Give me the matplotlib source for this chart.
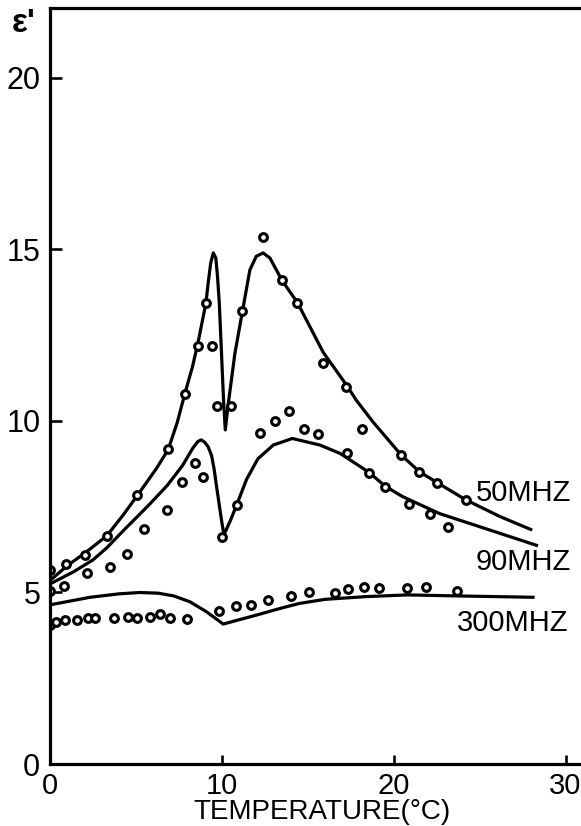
import matplotlib
matplotlib.use("Agg")
import matplotlib.pyplot as plt

# fitted curves
t_50 = [0, 1.0, 2.03, 3.3, 4.26, 5.1, 6.2, 6.88, 7.4, 7.85, 8.3, 8.62, 9.07, 9.2, 9.35, 9.5,
        9.65, 9.75, 9.85, 9.96, 10.1, 10.2, 10.4, 10.76, 11.2, 11.63, 12.0, 12.4, 12.8, 13.5,
        14.4, 15.9, 17.25, 17.83, 18.8, 20.45, 21.5, 22.54, 24.2, 26.2, 28.06]
e_50 = [5.35, 5.78, 6.15, 6.65, 7.26, 7.84, 8.62, 9.17, 9.95, 10.8, 11.6, 12.3, 13.43, 14.0, 14.6, 14.9,
        14.75, 14.2, 13.45, 12.2, 10.6, 9.74, 10.6, 11.97, 13.2, 14.4, 14.8, 14.9, 14.75, 14.1,
        13.45, 12.0, 11.05, 10.6, 9.97, 9.0, 8.52, 8.2, 7.7, 7.21, 6.82]

t_90 = [0, 1.36, 2.5, 3.3, 4.26, 5.0, 5.81, 6.82, 7.71, 8.3, 8.6, 8.8, 9.0, 9.2, 9.4, 9.55,
        9.69, 9.85, 9.98, 10.12, 10.5, 10.9, 11.44, 12.1, 13.0, 14.1, 15.7, 16.9, 18.57,
        19.5, 20.5, 22.67, 25.6, 28.4]
e_90 = [5.25, 5.6, 5.95, 6.3, 6.8, 7.17, 7.58, 8.12, 8.7, 9.2, 9.4, 9.45, 9.38, 9.25, 9.0, 8.6,
        8.1, 7.55, 7.11, 6.68, 7.1, 7.6, 8.3, 8.9, 9.3, 9.49, 9.3, 9.05, 8.5,
        8.1, 7.8, 7.3, 6.82, 6.36]

t_300 = [0, 2.33, 4.0, 5.23, 6.3, 7.2, 8.14, 9.1, 10.08, 12.0, 13.5, 14.5, 16.0, 18.4, 20.8, 23.7, 28.2]
e_300 = [4.64, 4.86, 4.96, 5.0, 4.98, 4.9, 4.73, 4.44, 4.08, 4.34, 4.55, 4.68, 4.8, 4.88, 4.93, 4.9, 4.86]

# measured points
pt_50 = [0, 0.93, 2.03, 3.3, 5.08, 6.88, 7.85, 8.62, 9.4, 9.07, 9.69, 10.56, 11.2, 12.4,
         13.5, 14.4, 15.9, 17.25, 18.18, 20.45, 21.5, 22.54, 24.2]
pe_50 = [5.66, 5.83, 6.09, 6.65, 7.84, 9.17, 10.8, 12.2, 12.2, 13.43, 10.44, 10.44, 13.2, 15.36,
         14.1, 13.45, 11.7, 11.0, 9.77, 9.0, 8.52, 8.2, 7.7]

pt_90 = [0, 0.81, 2.17, 3.49, 4.5, 5.47, 6.82, 7.71, 8.43, 8.91, 9.98, 10.9, 12.2, 13.1,
         13.9, 14.77, 15.6, 17.29, 18.57, 19.5, 20.9, 22.1, 23.16]
pe_90 = [5.05, 5.2, 5.56, 5.75, 6.12, 6.84, 7.4, 8.21, 8.77, 8.36, 6.63, 7.54, 9.64, 10.0,
         10.3, 9.77, 9.63, 9.08, 8.49, 8.08, 7.57, 7.29, 6.9]

pt_300 = [0, 0.33, 0.87, 1.55, 2.19, 2.62, 3.72, 4.55, 5.04, 5.81, 6.4, 6.98, 8.0, 9.85,
          10.8, 11.67, 12.66, 14.0, 15.06, 16.57, 17.35, 18.3, 19.15, 20.8, 21.9, 23.7]
pe_300 = [4.05, 4.13, 4.2, 4.2, 4.25, 4.25, 4.25, 4.29, 4.27, 4.28, 4.37, 4.25, 4.22, 4.46,
          4.61, 4.64, 4.78, 4.9, 5.02, 4.99, 5.09, 5.15, 5.12, 5.12, 5.15, 5.05]

plt.rcParams['font.family'] = ['Liberation Sans', 'DejaVu Sans']

fig = plt.figure(figsize=(5.81, 8.26), dpi=100)
ax = fig.add_axes([50/581, 62/826, 531/581, 756/826])

for t, e in [(t_50, e_50), (t_90, e_90), (t_300, e_300)]:
    ax.plot(t, e, color='black', lw=2.3, solid_capstyle='butt', solid_joinstyle='round')

for t, e in [(pt_50, pe_50), (pt_90, pe_90), (pt_300, pe_300)]:
    ax.plot(t, e, 'o', ms=5.6, mfc='white', mec='black', mew=2.2, ls='none')

ax.set_xlim(0, 30.9)
ax.set_ylim(0, 22.04)
ax.set_xticks([0, 10, 20, 30])
ax.set_yticks([0, 5, 10, 15, 20])

for s in ['left', 'bottom', 'top']:
    ax.spines[s].set_linewidth(2.3)
ax.spines['right'].set_visible(False)

ax.tick_params(axis='y', direction='in', length=8.6, width=1.9, pad=7, labelsize=22)
ax.tick_params(axis='x', direction='in', length=6.5, width=1.9, pad=6, labelsize=21)

ax.set_xlabel('TEMPERATURE(°C)', fontsize=20)
ax.xaxis.set_label_coords(0.512, -0.046)

fig.text(24/581, 1 - 24/826, "ε'", fontsize=24, fontweight='bold', ha='center', va='center')

ax.text(24.8, 7.9, '50MHZ', fontsize=21, ha='left', va='center')
ax.text(24.77, 5.9, '90MHZ', fontsize=21, ha='left', va='center')
ax.text(23.7, 4.11, '300MHZ', fontsize=21, ha='left', va='center')

fig.savefig('out.png', dpi=100)
